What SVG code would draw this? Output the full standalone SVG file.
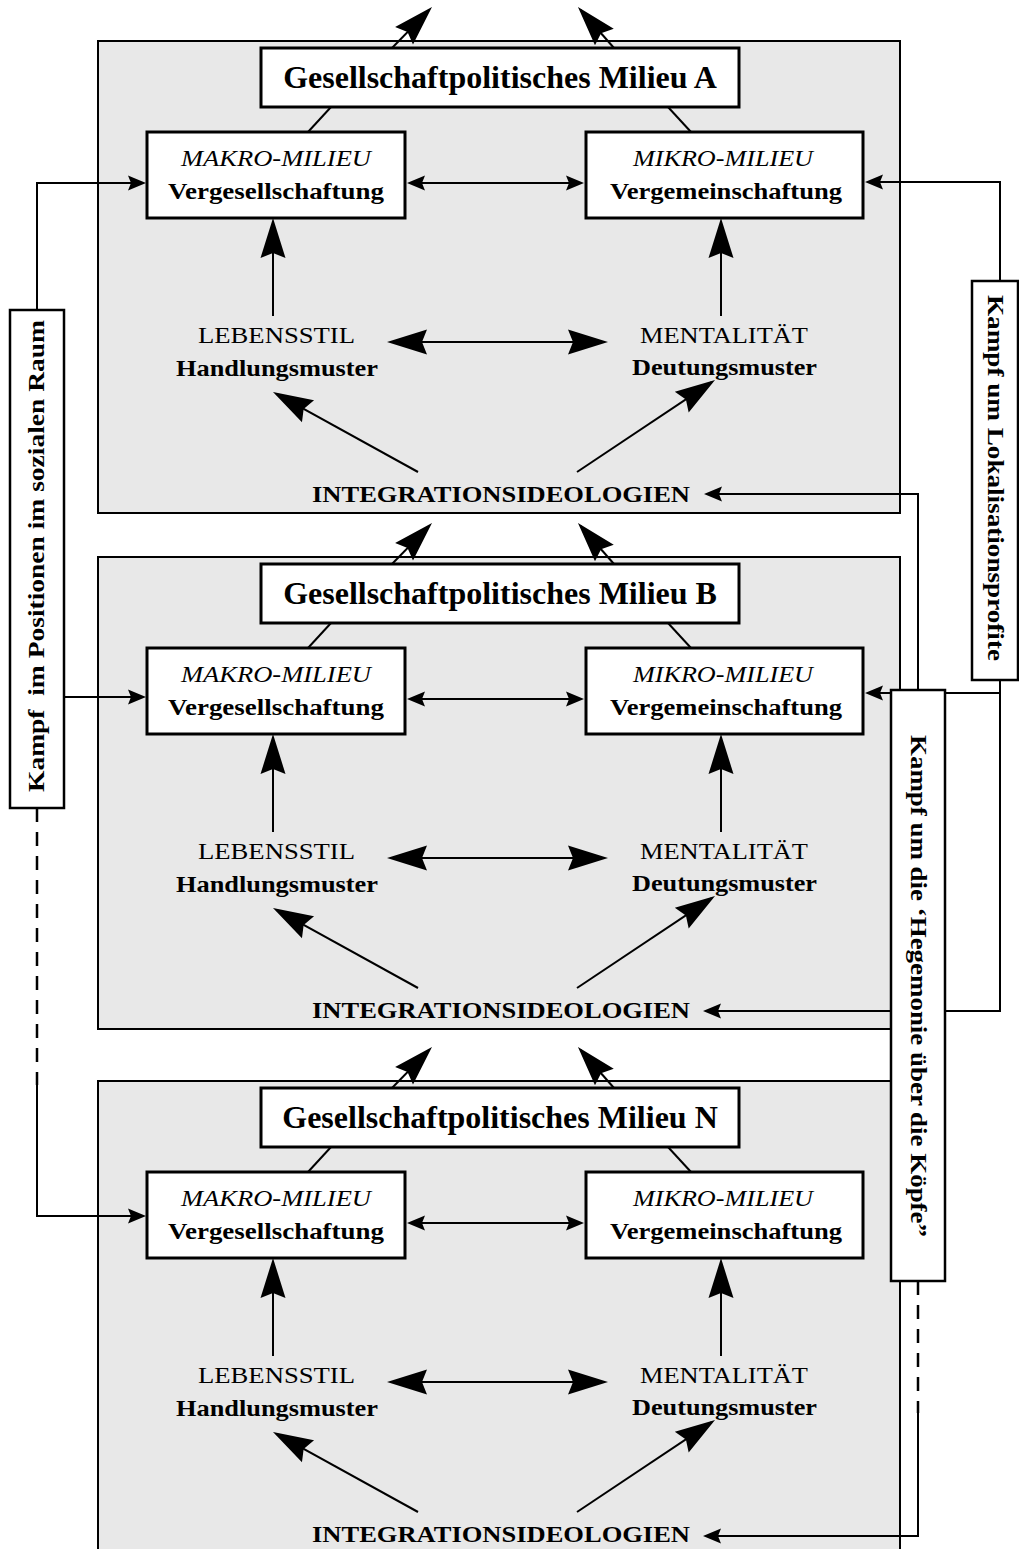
<svg xmlns="http://www.w3.org/2000/svg" width="1019" height="1549" viewBox="0 0 1019 1549">
<style>
.panel{fill:#e8e8e8;stroke:#000;stroke-width:2}
.box{fill:#fff;stroke:#000;stroke-width:3}
.bar{fill:#fff;stroke:#000;stroke-width:2.5}
.ln{stroke:#000;stroke-width:2;fill:none}
.dash{stroke:#000;stroke-width:2.5;fill:none;stroke-dasharray:14 10}
.t{font-family:"Liberation Serif","Times New Roman",serif;font-size:24px;text-anchor:middle;fill:#000}
.b{font-weight:bold}
.i{font-style:italic}
.title{font-size:32px;font-weight:bold}
.big{marker-end:url(#big)}
.sm{marker-end:url(#sm)}
</style>
<defs>
<marker id="big" markerUnits="userSpaceOnUse" orient="auto-start-reverse" overflow="visible" markerWidth="50" markerHeight="30" refX="0" refY="0"><path d="M4,0 L-36,-12.5 L-31,0 L-36,12.5 Z" fill="#000"/></marker>
<marker id="sm" markerUnits="userSpaceOnUse" orient="auto-start-reverse" overflow="visible" markerWidth="20" markerHeight="20" refX="0" refY="0"><path d="M3,0 L-15,-7.5 L-12,0 L-15,7.5 Z" fill="#000"/></marker>
</defs>

<!-- Milieu A -->
<g id="milieuA">
<rect class="panel" x="98" y="41" width="802" height="472"/>
<g id="A-connectors">
<line class="ln big" x1="392" y1="48" x2="429.2" y2="9.9"/>
<line class="ln big" x1="614" y1="48" x2="580.6" y2="10"/>
<line class="ln" x1="331" y1="107" x2="308" y2="132"/>
<line class="ln" x1="668" y1="107" x2="691" y2="132"/>
<line class="ln" x1="410" y1="183" x2="581" y2="183" marker-start="url(#sm)" marker-end="url(#sm)"/>
<line class="ln big" x1="273" y1="316" x2="273" y2="222"/>
<line class="ln big" x1="721" y1="316" x2="721" y2="222"/>
<line class="ln" x1="391" y1="342" x2="604" y2="342" marker-start="url(#big)" marker-end="url(#big)"/>
<line class="ln big" x1="418" y1="472" x2="276.5" y2="393.9"/>
<line class="ln big" x1="577" y1="472" x2="711.7" y2="382.2"/>
</g>
<g id="A-title"><rect class="box" x="261" y="48" width="478" height="59"/><text class="t title" x="500" y="88">Gesellschaftpolitisches Milieu A</text></g>
<g id="A-makro"><rect class="box" x="147" y="132" width="258" height="86"/><text class="t i" x="276" y="166" textLength="190" lengthAdjust="spacingAndGlyphs">MAKRO-MILIEU</text><text class="t b" x="276" y="199" textLength="216" lengthAdjust="spacingAndGlyphs">Vergesellschaftung</text></g>
<g id="A-mikro"><rect class="box" x="586" y="132" width="277" height="86"/><text class="t i" x="723" y="166" textLength="180" lengthAdjust="spacingAndGlyphs">MIKRO-MILIEU</text><text class="t b" x="726" y="199" textLength="232" lengthAdjust="spacingAndGlyphs">Vergemeinschaftung</text></g>
<g id="A-lebensstil"><text class="t" x="276.5" y="343" textLength="157" lengthAdjust="spacingAndGlyphs">LEBENSSTIL</text><text class="t b" x="277" y="376" textLength="202" lengthAdjust="spacingAndGlyphs">Handlungsmuster</text></g>
<g id="A-mentalitaet"><text class="t" x="724" y="343" textLength="168" lengthAdjust="spacingAndGlyphs">MENTALITÄT</text><text class="t b" x="724.5" y="375" textLength="185" lengthAdjust="spacingAndGlyphs">Deutungsmuster</text></g>
<g id="A-integration"><text class="t b" x="501" y="502" textLength="378" lengthAdjust="spacingAndGlyphs">INTEGRATIONSIDEOLOGIEN</text></g>
</g>

<!-- Milieu B -->
<g id="milieuB" transform="translate(0,516)">
<rect class="panel" x="98" y="41" width="802" height="472"/>
<g id="B-connectors">
<line class="ln big" x1="392" y1="48" x2="429.2" y2="9.9"/>
<line class="ln big" x1="614" y1="48" x2="580.6" y2="10"/>
<line class="ln" x1="331" y1="107" x2="308" y2="132"/>
<line class="ln" x1="668" y1="107" x2="691" y2="132"/>
<line class="ln" x1="410" y1="183" x2="581" y2="183" marker-start="url(#sm)" marker-end="url(#sm)"/>
<line class="ln big" x1="273" y1="316" x2="273" y2="222"/>
<line class="ln big" x1="721" y1="316" x2="721" y2="222"/>
<line class="ln" x1="391" y1="342" x2="604" y2="342" marker-start="url(#big)" marker-end="url(#big)"/>
<line class="ln big" x1="418" y1="472" x2="276.5" y2="393.9"/>
<line class="ln big" x1="577" y1="472" x2="711.7" y2="382.2"/>
</g>
<g id="B-title"><rect class="box" x="261" y="48" width="478" height="59"/><text class="t title" x="500" y="88">Gesellschaftpolitisches Milieu B</text></g>
<g id="B-makro"><rect class="box" x="147" y="132" width="258" height="86"/><text class="t i" x="276" y="166" textLength="190" lengthAdjust="spacingAndGlyphs">MAKRO-MILIEU</text><text class="t b" x="276" y="199" textLength="216" lengthAdjust="spacingAndGlyphs">Vergesellschaftung</text></g>
<g id="B-mikro"><rect class="box" x="586" y="132" width="277" height="86"/><text class="t i" x="723" y="166" textLength="180" lengthAdjust="spacingAndGlyphs">MIKRO-MILIEU</text><text class="t b" x="726" y="199" textLength="232" lengthAdjust="spacingAndGlyphs">Vergemeinschaftung</text></g>
<g id="B-lebensstil"><text class="t" x="276.5" y="343" textLength="157" lengthAdjust="spacingAndGlyphs">LEBENSSTIL</text><text class="t b" x="277" y="376" textLength="202" lengthAdjust="spacingAndGlyphs">Handlungsmuster</text></g>
<g id="B-mentalitaet"><text class="t" x="724" y="343" textLength="168" lengthAdjust="spacingAndGlyphs">MENTALITÄT</text><text class="t b" x="724.5" y="375" textLength="185" lengthAdjust="spacingAndGlyphs">Deutungsmuster</text></g>
<g id="B-integration"><text class="t b" x="501" y="502" textLength="378" lengthAdjust="spacingAndGlyphs">INTEGRATIONSIDEOLOGIEN</text></g>
</g>

<!-- Milieu N -->
<g id="milieuN" transform="translate(0,1040)">
<rect class="panel" x="98" y="41" width="802" height="520"/>
<g id="N-connectors">
<line class="ln big" x1="392" y1="48" x2="429.2" y2="9.9"/>
<line class="ln big" x1="614" y1="48" x2="580.6" y2="10"/>
<line class="ln" x1="331" y1="107" x2="308" y2="132"/>
<line class="ln" x1="668" y1="107" x2="691" y2="132"/>
<line class="ln" x1="410" y1="183" x2="581" y2="183" marker-start="url(#sm)" marker-end="url(#sm)"/>
<line class="ln big" x1="273" y1="316" x2="273" y2="222"/>
<line class="ln big" x1="721" y1="316" x2="721" y2="222"/>
<line class="ln" x1="391" y1="342" x2="604" y2="342" marker-start="url(#big)" marker-end="url(#big)"/>
<line class="ln big" x1="418" y1="472" x2="276.5" y2="393.9"/>
<line class="ln big" x1="577" y1="472" x2="711.7" y2="382.2"/>
</g>
<g id="N-title"><rect class="box" x="261" y="48" width="478" height="59"/><text class="t title" x="500" y="88">Gesellschaftpolitisches Milieu N</text></g>
<g id="N-makro"><rect class="box" x="147" y="132" width="258" height="86"/><text class="t i" x="276" y="166" textLength="190" lengthAdjust="spacingAndGlyphs">MAKRO-MILIEU</text><text class="t b" x="276" y="199" textLength="216" lengthAdjust="spacingAndGlyphs">Vergesellschaftung</text></g>
<g id="N-mikro"><rect class="box" x="586" y="132" width="277" height="86"/><text class="t i" x="723" y="166" textLength="180" lengthAdjust="spacingAndGlyphs">MIKRO-MILIEU</text><text class="t b" x="726" y="199" textLength="232" lengthAdjust="spacingAndGlyphs">Vergemeinschaftung</text></g>
<g id="N-lebensstil"><text class="t" x="276.5" y="343" textLength="157" lengthAdjust="spacingAndGlyphs">LEBENSSTIL</text><text class="t b" x="277" y="376" textLength="202" lengthAdjust="spacingAndGlyphs">Handlungsmuster</text></g>
<g id="N-mentalitaet"><text class="t" x="724" y="343" textLength="168" lengthAdjust="spacingAndGlyphs">MENTALITÄT</text><text class="t b" x="724.5" y="375" textLength="185" lengthAdjust="spacingAndGlyphs">Deutungsmuster</text></g>
<g id="N-integration"><text class="t b" x="501" y="502" textLength="378" lengthAdjust="spacingAndGlyphs">INTEGRATIONSIDEOLOGIEN</text></g>
</g>

<!-- external connectors -->
<g id="connectors">
<polyline class="ln sm" points="37,310 37,183 143,183"/>
<line class="ln sm" x1="64" y1="697" x2="143" y2="697"/>
<line class="dash" x1="37" y1="808" x2="37" y2="1085"/>
<polyline class="ln sm" points="37,1085 37,1216 143,1216"/>
<polyline class="ln sm" points="1000,281 1000,182 868,182"/>
<line class="ln sm" x1="1000" y1="693" x2="868" y2="693"/>
<polyline class="ln sm" points="1000,680 1000,1011 706,1011"/>
<polyline class="ln sm" points="918,690 918,494 707,494"/>
<line class="dash" x1="918" y1="1281" x2="918" y2="1413"/>
<polyline class="ln sm" points="918,1413 918,1536 706,1536"/>
</g>

<!-- side bars -->
<g id="bar-positionen"><rect class="bar" x="10" y="310" width="54" height="498"/><text class="t b" xml:space="preserve" transform="translate(44,556) rotate(-90)" x="0" y="0" textLength="472" lengthAdjust="spacingAndGlyphs">Kampf  im Positionen im sozialen Raum</text></g>
<g id="bar-lokalisation"><rect class="bar" x="972" y="281" width="46" height="399"/><text class="t b" transform="translate(988,478) rotate(90)" x="0" y="0" textLength="366" lengthAdjust="spacingAndGlyphs">Kampf um Lokalisationsprofite</text></g>
<g id="bar-hegemonie"><rect class="bar" x="891" y="690" width="54" height="591"/><text class="t b" transform="translate(911,986) rotate(90)" x="0" y="0" textLength="502" lengthAdjust="spacingAndGlyphs">Kampf um die ‘Hegemonie über die Köpfe”</text></g>
</svg>
